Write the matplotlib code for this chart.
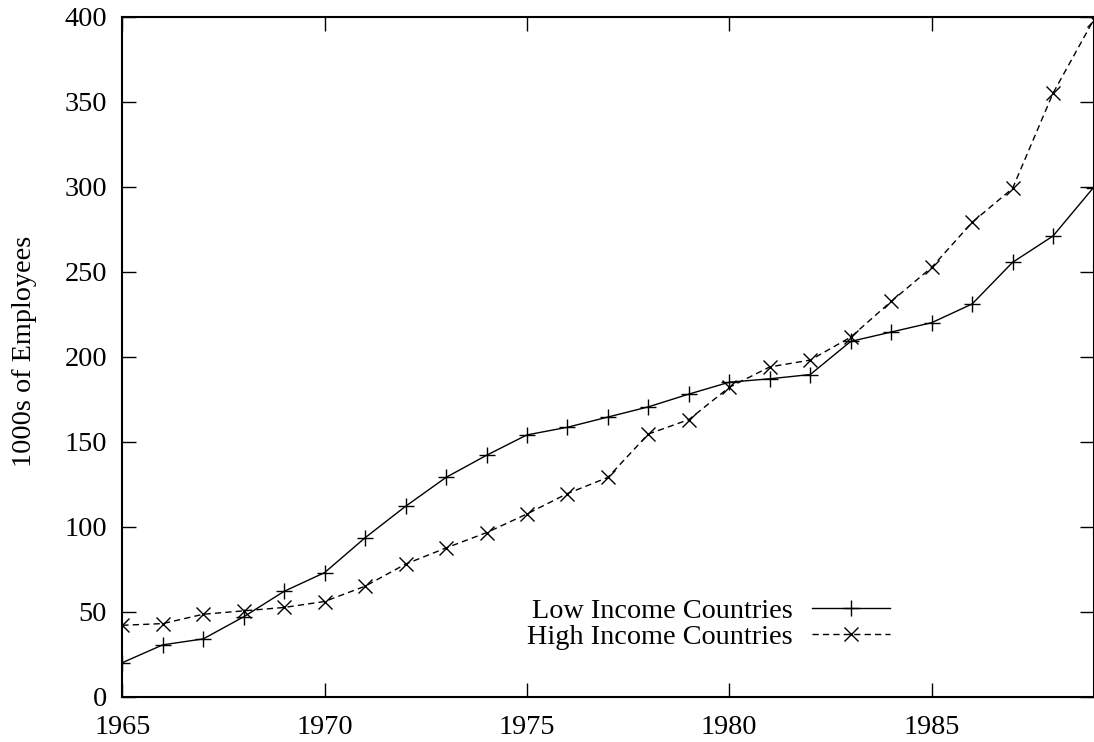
import matplotlib
matplotlib.use("Agg")
import matplotlib.pyplot as plt

years = list(range(1965, 1990))
low_income = [20, 30.5, 34, 47, 62, 73, 93.5, 112, 129, 142,
              154, 158.5, 164.5, 170.5, 178, 185, 187, 189.5, 209, 214.5,
              220, 231, 255.5, 271, 299.5]
high_income = [42, 43, 48.5, 50.5, 52.5, 56, 65, 78, 87.5, 96.5,
               107.5, 119.5, 129, 154.5, 163, 182, 194, 198, 211.5, 232.5,
               252.5, 279, 299, 355, 398]
series_names = ["Low Income Countries", "High Income Countries"]
x_ticks = [1965, 1970, 1975, 1980, 1985]
y_ticks = [0, 50, 100, 150, 200, 250, 300, 350, 400]
y_label = "1000s of Employees"

plt.rcParams["font.family"] = ["Liberation Serif", "DejaVu Serif"]
fs = 20.3

W, H = 1094, 742
fig = plt.figure(figsize=(W / 100, H / 100), dpi=100)
left, right, top, bottom = 122.3, 1093.5, 16.7, 696.7
ax = fig.add_axes([left / W, (H - bottom) / H, (right - left) / W, (bottom - top) / H])

ax.plot(years, low_income, color="black", lw=1.0, marker="+", ms=11, mew=1.0,
        label=series_names[0])
ax.plot(years, high_income, color="black", lw=1.0, ls=(0, (4.5, 3)), marker="x",
        ms=10, mew=1.0, label=series_names[1])

ax.set_xlim(1965, 1989)
ax.set_ylim(0, 400)
ax.set_xticks(x_ticks)
ax.set_yticks(y_ticks)
ax.tick_params(direction="in", length=10, width=1.0, top=True, right=True,
               labelsize=fs)
ax.tick_params(axis="x", pad=13)
ax.tick_params(axis="y", pad=11)
for s in ax.spines.values():
    s.set_linewidth(1.5)
ax.set_ylabel(y_label, fontsize=fs)
ax.yaxis.set_label_coords((37 - left) / (right - left), 0.508)

leg = ax.legend(loc="center right", bbox_to_anchor=(890 / W, (H - 624) / H),
                bbox_transform=fig.transFigure, frameon=False, markerfirst=False,
                fontsize=fs, handlelength=2.75, handletextpad=0.7,
                borderpad=0, borderaxespad=0, labelspacing=0.0)
for t in leg.get_texts():
    t.set_ha("right")

fig.savefig("out.png", dpi=100)
